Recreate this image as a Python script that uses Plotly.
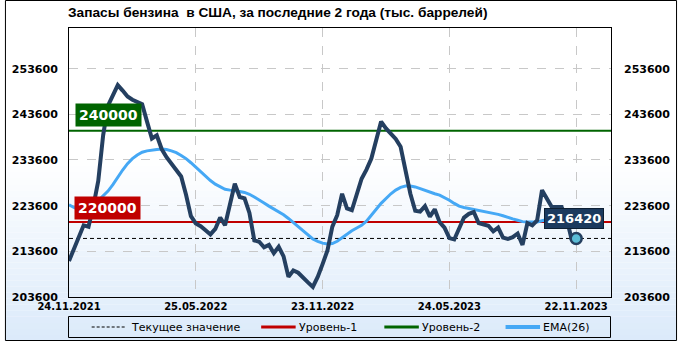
import plotly.graph_objects as go
import pandas as pd

# ---- data ----
dates = pd.date_range("2021-11-24", periods=105, freq="7D")
stocks = [
    211500, 214000, 216500, 219300, 219000, 223500, 229000, 239000, 245500, 247800,
    250000, 248800, 247500, 246800, 246300, 245800, 242000, 238300, 239000, 236000,
    234200, 232700, 231500, 230000, 226000, 221300, 219700, 219100, 218200, 217300,
    218500, 221000, 219300, 223500, 228400, 225500, 225200, 222000, 216000, 215700,
    214500, 215000, 213200, 214600, 212500, 208000, 209400, 208900, 207700, 206800,
    205800, 208000, 210800, 213800, 219000, 221500, 226200, 223000, 222600, 226000,
    229500, 231500, 233900, 238000, 242000, 240500, 239200, 238200, 236500, 231000,
    226200, 222500, 222300, 223500, 221200, 222800, 220000, 218800, 216500, 216200,
    218500, 221000, 221800, 222200, 219800, 219400, 219200, 218000, 218800, 216600,
    216300, 216700, 217500, 215000, 219800, 219300, 220400, 227000, 225200, 223300,
    223300, 223300, 221000, 216500, 216420,
]
ema26 = [
    223800, 223200, 222800, 222900, 223300, 223900, 224700, 225700, 226800, 228200,
    229900, 231400, 232800, 233900, 234700, 235300, 235600, 235800, 235900, 236000,
    235900, 235600, 235200, 234600, 233900, 233000, 232000, 231000, 230000, 229100,
    228300, 227700, 227200, 227000, 226900, 226700, 226500, 226100, 225500, 224900,
    224200, 223500, 222900, 222300, 221600, 220800, 219900, 218900, 217900, 217000,
    216300, 215800, 215400, 215200, 215300, 215800, 216600, 217400, 218100, 218700,
    219300, 220200, 221400, 222800, 224100, 225200, 226200, 227000, 227600, 227900,
    227900, 227700, 227300, 226900, 226500, 226200, 225900, 225400, 224800, 224100,
    223500, 223200, 223000, 222800, 222600, 222400, 222100, 221900, 221700, 221400,
    221000, 220700, 220400, 220100, 220000, 220000, 220000, 220300, 220600, 220800,
    221000, 221100, 221000, 220900, 220800,
]
level1 = 220000
level2 = 240000
current_value = 216420
y_ticks = [203600, 213600, 223600, 233600, 243600, 253600]
x_tick_dates = ["2021-11-24", "2022-05-25", "2022-11-23", "2023-05-24", "2023-11-22"]
x_tick_text = ["24.11.2021", "25.05.2022", "23.11.2022", "24.05.2023", "22.11.2023"]
legend_names = ["Текущее значение", "Уровень-1", "Уровень-2", "EMA(26)"]
title_text = "Запасы бензина\u00a0 в США, за последние 2 года (тыс. баррелей)"

x_range = ["2021-11-24", "2024-01-11"]
y_range = [203600, 262500]

NAVY = "#243f60"
EMA_C = "#45a8f5"
RED = "#c00000"
GREEN = "#006400"
FONT = "DejaVu Sans"

fig = go.Figure()

fig.add_trace(go.Scatter(x=x_range, y=[current_value] * 2, mode="lines",
                         line=dict(color="black", width=1, dash="4px,3px"),
                         name=legend_names[0], hoverinfo="skip"))
fig.add_trace(go.Scatter(x=x_range, y=[level1] * 2, mode="lines",
                         line=dict(color=RED, width=2), name=legend_names[1], hoverinfo="skip"))
fig.add_trace(go.Scatter(x=x_range, y=[level2] * 2, mode="lines",
                         line=dict(color=GREEN, width=2), name=legend_names[2], hoverinfo="skip"))
fig.add_trace(go.Scatter(x=dates, y=ema26, mode="lines",
                         line=dict(color=EMA_C, width=3), name=legend_names[3]))
fig.add_trace(go.Scatter(x=dates, y=stocks, mode="lines",
                         line=dict(color=NAVY, width=4), name="Запасы"))
fig.add_trace(go.Scatter(x=[dates[-1]], y=[stocks[-1]], mode="markers",
                         marker=dict(size=11, color="#5bbcd6", line=dict(color=NAVY, width=2.5)),
                         name="last"))
# invisible trace for right axis
fig.add_trace(go.Scatter(x=[dates[0]], y=[stocks[0]], yaxis="y2", mode="markers",
                         marker=dict(opacity=0), hoverinfo="skip"))

# background gradient (white -> light blue), drawn in paper coordinates
W, H = 682, 341
L, R, T, B = 65, 67, 28, 44
pw, ph = W - L - R, H - T - B
def px_x(p):
    return (p - L) / pw
def px_y(p):
    return (H - B - p) / ph

shapes = []
g_start, g_end = 160, 341
steps = 30
c0 = (255, 255, 255)
c1 = (219, 234, 250)
for i in range(steps):
    y0p = g_start + (g_end - g_start) * i / steps
    y1p = g_start + (g_end - g_start) * (i + 1) / steps
    t = (i + 0.5) / steps
    col = tuple(round(c0[k] + (c1[k] - c0[k]) * t) for k in range(3))
    shapes.append(dict(type="rect", xref="paper", yref="paper", layer="below",
                       x0=px_x(0), x1=px_x(W), y0=px_y(y1p), y1=px_y(y0p),
                       line=dict(width=0), fillcolor="rgb(%d,%d,%d)" % col))
# outer frame
shapes.append(dict(type="rect", xref="paper", yref="paper", layer="above",
                   x0=px_x(0.5), x1=px_x(W - 0.5), y0=px_y(H - 0.5), y1=px_y(0.5),
                   line=dict(color="black", width=1), fillcolor="rgba(0,0,0,0)"))
# legend frame
shapes.append(dict(type="rect", xref="paper", yref="paper", layer="above",
                   x0=px_x(64.5), x1=px_x(614.5), y0=px_y(337.5), y1=px_y(316.5),
                   line=dict(color="black", width=1), fillcolor="rgba(0,0,0,0)"))

# manual legend (symbols + real text)
leg_y = 327
leg_items = [
    (88, 123, dict(color="black", width=1, dash="3px,2px"), 127),
    (260, 295, dict(color=RED, width=3), 297),
    (385, 420, dict(color=GREEN, width=3), 422),
    (508, 543, dict(color=EMA_C, width=4), 545),
]
annotations = []
for (xa, xb, ln, xt), name in zip(leg_items, legend_names):
    shapes.append(dict(type="line", xref="paper", yref="paper", layer="above",
                       x0=px_x(xa), x1=px_x(xb), y0=px_y(leg_y), y1=px_y(leg_y), line=ln))
    annotations.append(dict(text=name, xref="paper", x=px_x(xt - 1), xanchor="left",
                            yref="paper", y=px_y(leg_y), yanchor="middle", showarrow=False,
                            font=dict(family=FONT, size=11, color="black")))

annotations += [
    dict(text="<b>240000</b>", xref="paper", x=px_x(71), xanchor="left",
         yref="y", y=level2, yanchor="bottom", yshift=4, showarrow=False,
         font=dict(family=FONT, size=14, color="white"), bgcolor=GREEN, borderpad=3),
    dict(text="<b>220000</b>", xref="paper", x=px_x(70), xanchor="left",
         yref="y", y=level1, yanchor="bottom", yshift=2, showarrow=False,
         font=dict(family=FONT, size=14, color="white"), bgcolor=RED, borderpad=3),
    dict(text="<b>216420</b>", xref="x", x=dates[-1], xanchor="center", xshift=-2,
         yref="y", y=current_value, yanchor="middle", yshift=20, showarrow=False,
         font=dict(family=FONT, size=13, color="white"), bgcolor="#1c3a5e",
         bordercolor="#0d1f33", borderwidth=1, borderpad=2),
    dict(text="<b>" + title_text + "</b>", xref="paper", x=px_x(62), xanchor="left",
         yref="paper", y=px_y(13), yanchor="middle", showarrow=False,
         font=dict(family="Liberation Sans", size=13.7, color="black")),
]

fig.update_layout(
    width=W, height=H,
    margin=dict(l=L, r=R, t=T, b=B, pad=0),
    paper_bgcolor="white", plot_bgcolor="rgba(0,0,0,0)",
    shapes=shapes, annotations=annotations,
    showlegend=False,
    xaxis=dict(type="date", range=x_range, tickvals=x_tick_dates, ticktext=x_tick_text,
               showgrid=True, gridcolor="#c8c8c8", griddash="dash", gridwidth=1,
               showline=True, linecolor="black", linewidth=1, mirror=True,
               ticks="", tickfont=dict(family=FONT, size=10, color="black", weight="bold"),
               zeroline=False),
    yaxis=dict(range=y_range, tickvals=y_ticks, ticktext=[str(v) for v in y_ticks],
               showgrid=True, gridcolor="#c8c8c8", griddash="dash", gridwidth=1,
               showline=True, linecolor="black", linewidth=1, mirror=True,
               ticks="", ticklabelstandoff=8,
               tickfont=dict(family=FONT, size=11, color="black", weight="bold"),
               zeroline=False),
    yaxis2=dict(range=y_range, tickvals=y_ticks, ticktext=[str(v) for v in y_ticks],
                overlaying="y", side="right", showgrid=False, zeroline=False,
                ticks="", ticklabelstandoff=12,
                tickfont=dict(family=FONT, size=11, color="black", weight="bold")),
)

fig.write_html("out.html")
